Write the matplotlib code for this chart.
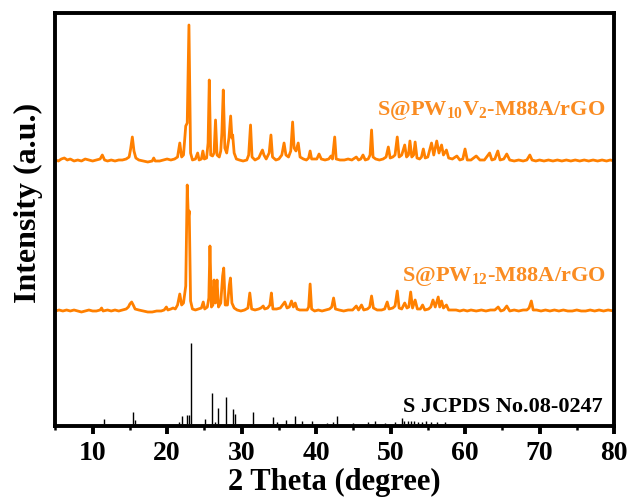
import matplotlib
matplotlib.use("Agg")
import matplotlib.pyplot as plt
from matplotlib.ticker import MultipleLocator

# S@PW10V2-M88A/rGO pattern (2theta, intensity a.u.)
pw10_x = [5.0, 5.4, 5.8, 6.2, 6.6, 7.0, 7.5, 8.0, 8.5, 9.0, 9.5, 10.0, 10.5, 11.0, 11.3, 11.6,
          12.0, 12.5, 13.0, 13.5, 14.0, 14.5, 14.9, 15.1, 15.33, 15.55, 15.8, 16.2, 16.8, 17.4,
          18.0, 18.2, 18.4, 19.0, 19.5, 20.0, 20.5, 21.0, 21.4, 21.7, 21.95, 22.2, 22.5, 22.7,
          22.93, 23.15, 23.4, 23.8, 24.1, 24.3, 24.6, 24.8, 25.0, 25.3, 25.5, 25.66, 25.85, 26.1,
          26.3, 26.5, 26.7, 27.0, 27.2, 27.35, 27.54, 27.75, 28.0, 28.3, 28.53, 28.7, 28.8, 29.0,
          29.3, 29.7, 30.2, 30.7, 30.95, 31.2, 31.4, 31.8, 32.3, 32.6, 32.8, 33.0, 33.3, 33.7,
          33.94, 34.15, 34.6, 35.0, 35.4, 35.7, 35.95, 36.3, 36.6, 36.85, 37.05, 37.3, 37.6, 37.85,
          38.3, 38.7, 39.0, 39.2, 39.4, 39.8, 40.1, 40.4, 40.7, 41.2, 41.7, 42.0, 42.2, 42.5, 42.7,
          43.2, 43.8, 44.3, 44.8, 45.4, 45.7, 46.0, 46.3, 46.6, 47.0, 47.25, 47.45, 47.65, 48.0,
          48.5, 49.0, 49.4, 49.7, 49.95, 50.3, 50.6, 50.9, 51.15, 51.5, 51.9, 52.15, 52.4, 52.6,
          52.85, 53.1, 53.3, 53.55, 53.9, 54.15, 54.4, 54.65, 55.0, 55.5, 55.8, 56.2, 56.5, 56.85,
          57.1, 57.5, 57.8, 58.3, 58.9, 59.3, 59.7, 60.0, 60.3, 60.8, 61.5, 62.0, 62.6, 63.3, 63.6,
          64.0, 64.4, 64.7, 65.2, 65.6, 66.0, 66.6, 67.2, 67.8, 68.3, 68.7, 69.0, 69.5, 70.0, 70.6,
          71.2, 71.8, 72.4, 73.0, 73.6, 74.2, 74.8, 75.4, 76.0, 76.6, 77.2, 77.8, 78.4, 79.0, 79.5,
          80.0]
pw10_y = [3, 2, 4, 5, 3, 4, 2, 3, 2, 4, 3, 2, 3, 4, 8, 3,
          2, 3, 2, 3, 3, 4, 6, 14, 26, 12, 5, 3, 2, 1,
          2, 5, 2, 2, 3, 4, 3, 4, 6, 20, 6, 8, 37, 40,
          138, 10, 3, 4, 10, 3, 4, 12, 4, 5, 20, 83, 8, 7,
          10, 43, 8, 6, 12, 30, 73, 15, 10, 25, 47, 25, 28, 10,
          4, 3, 2, 3, 8, 38, 6, 3, 5, 10, 13, 8, 4, 10,
          28, 6, 3, 4, 8, 20, 8, 6, 12, 41, 15, 12, 20, 6,
          4, 3, 5, 12, 4, 4, 4, 9, 4, 3, 4, 7, 4, 26, 4,
          3, 3, 4, 3, 6, 3, 4, 8, 3, 4, 8, 33, 6, 4,
          3, 4, 6, 16, 5, 6, 8, 26, 6, 8, 18, 6, 8, 22,
          6, 8, 21, 5, 4, 6, 14, 5, 6, 20, 8, 22, 10, 18,
          8, 13, 5, 4, 7, 3, 4, 14, 3, 3, 7, 3, 3, 10, 3,
          4, 12, 3, 4, 9, 3, 2, 3, 2, 3, 8, 3, 2, 3, 2,
          3, 2, 3, 2, 3, 2, 3, 2, 3, 2, 3, 2, 3, 2, 3,
          2]

# S@PW12-M88A/rGO pattern
pw12_x = [5.0, 5.5, 6.0, 6.5, 7.0, 7.5, 8.0, 8.5, 9.0, 9.5, 10.0, 10.5, 11.0, 11.2, 11.4, 12.0,
          12.5, 13.0, 13.5, 14.0, 14.5, 14.8, 15.0, 15.24, 15.45, 15.7, 16.2, 16.8, 17.4, 18.0,
          18.6, 19.2, 19.6, 19.9, 20.1, 20.5, 20.8, 21.1, 21.4, 21.7, 21.95, 22.2, 22.5, 22.7,
          22.85, 22.97, 23.15, 23.4, 23.8, 24.2, 24.6, 24.85, 25.05, 25.4, 25.6, 25.75, 25.95,
          26.15, 26.3, 26.5, 26.7, 26.9, 27.2, 27.45, 27.6, 27.8, 28.1, 28.35, 28.5, 28.7, 29.0,
          29.4, 29.9, 30.4, 30.85, 31.1, 31.35, 31.8, 32.3, 32.6, 32.9, 33.1, 33.5, 33.8, 34.0,
          34.2, 34.7, 35.2, 35.5, 35.8, 36.1, 36.4, 36.7, 36.95, 37.2, 37.45, 37.8, 38.3, 38.8,
          39.0, 39.2, 39.4, 39.8, 40.3, 40.8, 41.3, 41.8, 42.1, 42.35, 42.6, 43.1, 43.7, 44.3,
          44.9, 45.4, 45.7, 46.1, 46.4, 46.9, 47.2, 47.45, 47.7, 48.2, 48.8, 49.2, 49.55, 49.8,
          50.3, 50.6, 50.9, 51.15, 51.5, 51.9, 52.2, 52.45, 52.7, 52.95, 53.3, 53.6, 54.0, 54.3,
          54.6, 55.1, 55.4, 55.7, 56.0, 56.4, 56.6, 56.85, 57.1, 57.5, 57.8, 58.3, 58.8, 59.3,
          59.8, 60.3, 60.8, 61.5, 62.2, 62.8, 63.4, 64.0, 64.45, 64.8, 65.2, 65.6, 66.0, 66.6,
          67.2, 67.8, 68.3, 68.6, 68.9, 69.15, 69.6, 70.2, 70.8, 71.4, 72.0, 72.6, 73.2, 73.8,
          74.4, 75.0, 75.6, 76.2, 76.8, 77.4, 78.0, 78.6, 79.2, 80.0]
pw12_y = [2, 3, 2, 3, 2, 3, 2, 1, 2, 3, 2, 2, 3, 5, 2, 3,
          2, 3, 2, 3, 4, 6, 9, 11, 8, 4, 3, 2, 1, 1,
          2, 2, 3, 6, 3, 4, 5, 4, 8, 19, 8, 10, 27, 128,
          95, 102, 12, 4, 3, 4, 5, 11, 4, 6, 15, 67, 6,
          8, 33, 10, 33, 6, 10, 37, 45, 8, 8, 28, 35, 10, 5,
          3, 2, 3, 5, 20, 4, 3, 4, 5, 7, 4, 5, 8, 20,
          4, 4, 5, 8, 11, 5, 6, 12, 6, 10, 4, 3, 3, 3,
          6, 29, 4, 2, 3, 2, 3, 4, 6, 15, 4, 3, 2, 3,
          3, 7, 3, 8, 3, 4, 6, 17, 5, 3, 3, 4, 11, 4,
          5, 7, 22, 5, 4, 10, 5, 6, 21, 5, 13, 4, 4, 8,
          3, 4, 6, 13, 6, 16, 6, 12, 5, 8, 3, 3, 3, 2,
          3, 2, 3, 2, 3, 2, 3, 3, 6, 2, 3, 7, 2, 3,
          2, 3, 3, 5, 12, 3, 3, 2, 3, 2, 3, 2, 3, 2,
          2, 3, 2, 2, 3, 2, 3, 2, 3, 2]

# S reference, JCPDS No.08-0247
ref_pos = [11.57, 15.46, 15.7, 21.6, 21.95, 22.7, 22.9, 23.2, 25.08, 25.98, 26.4, 26.78, 27.85,
           28.8, 29.1, 31.48, 34.25, 34.8, 36.0, 37.2, 38.05, 39.5, 41.5, 42.3, 42.85, 44.9,
           47.0, 47.9, 49.2, 50.6, 51.5, 51.8, 52.3, 52.8, 53.2, 53.7, 54.2, 54.7, 55.4, 56.2,
           57.3]
ref_int = [5, 12, 4, 2, 8, 9, 9, 81, 5, 31, 2, 16, 27,
           15, 10, 12, 7, 2, 4, 8, 3, 3, 1, 2, 8, 1,
           2, 3, 1, 2, 6, 3, 3, 3, 3, 2, 2, 3, 2, 2,
           2]

orange = "#ff8000"
label_orange = "#fa8c22"
off_pw10 = 263
off_pw12 = 113
off_ref = 2

plt.rcParams["font.family"] = ["Liberation Serif", "DejaVu Serif"]
plt.rcParams["font.weight"] = "bold"
plt.rcParams["mathtext.fontset"] = "custom"
plt.rcParams["mathtext.rm"] = "Liberation Serif:bold"
plt.rcParams["mathtext.bf"] = "Liberation Serif:bold"

fig = plt.figure(figsize=(6.3, 5.01), dpi=100)
ax = fig.add_axes([55.4 / 630, 75 / 501, (614 - 55.4) / 630, 413 / 501])

ax.plot(pw10_x, [v + off_pw10 for v in pw10_y], color=orange, lw=2.0)
ax.plot(pw12_x, [v + off_pw12 for v in pw12_y], color=orange, lw=2.0)
ax.vlines(ref_pos, off_ref, [v + off_ref for v in ref_int], color="black", lw=1.0)

ax.text(0.985, 0.765, r"S@PW$_{10}$V$_{2}$-M88A/rGO", transform=ax.transAxes,
        ha="right", va="center", color=label_orange, fontsize=16, fontweight="bold")
ax.text(0.985, 0.361, r"S@PW$_{12}$-M88A/rGO", transform=ax.transAxes,
        ha="right", va="center", color=label_orange, fontsize=16, fontweight="bold")
ax.text(0.98, 0.047, "S JCPDS No.08-0247", transform=ax.transAxes,
        ha="right", va="center", color="black", fontsize=16, fontweight="bold")

ax.set_xlim(5, 80)
ax.set_ylim(0, 413)
ax.xaxis.set_major_locator(MultipleLocator(10))
ax.xaxis.set_minor_locator(MultipleLocator(5))
ax.set_yticks([])
ax.tick_params(axis="x", which="major", direction="out", length=6, width=2.8,
               labelsize=20, pad=5)
ax.tick_params(axis="x", which="minor", direction="out", length=3, width=1.8)
for s in ax.spines.values():
    s.set_linewidth(2.8)

ax.set_xlabel("2 Theta (degree)", fontsize=22, fontweight="bold", labelpad=1)
ax.set_ylabel("Intensity (a.u.)", fontsize=23, fontweight="bold")
ax.yaxis.set_label_coords(-0.022, 0.539)

fig.savefig("out.png", dpi=100)
